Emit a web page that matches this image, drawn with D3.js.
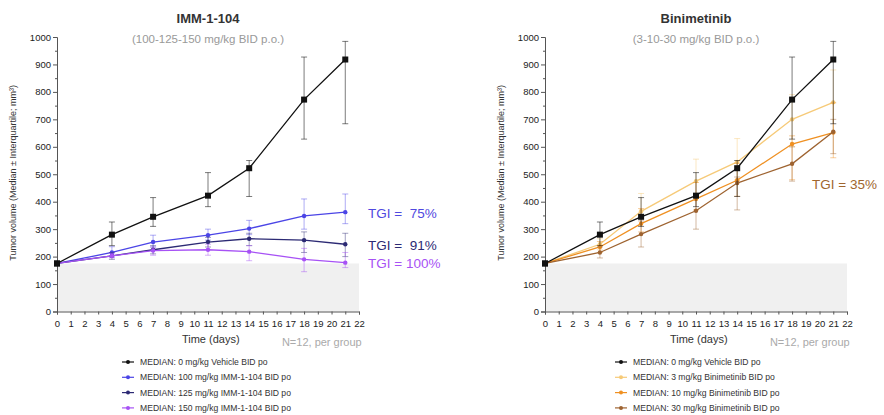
<!DOCTYPE html>
<html>
<head>
<meta charset="utf-8">
<script src="https://cdn.jsdelivr.net/npm/d3@7"></script>
<style>
  body { margin: 0; background: #fff; }
  svg text { font-family: "Liberation Sans", Arial, sans-serif; }
  .tick text { font-size: 9.5px; fill: #222; }
  .title { font-size: 13px; font-weight: bold; fill: #333; }
  .subtitle { font-size: 11.5px; fill: #999; }
  .ytitle { font-size: 9px; fill: #333; }
  .xtitle { font-size: 11px; fill: #333; }
  .ngroup { font-size: 11px; fill: #aaa; }
  .legend { font-size: 8.6px; fill: #333; }
  .tgi { font-size: 13.5px; white-space: pre; }
</style>
</head>
<body>
<div class="container"></div>
<script>
const days = [0, 4, 7, 11, 14, 18, 21];

// vehicle (shared by both panels)
const vehicleMed = [175, 280, 345, 422, 522, 772, 918];
const vehicleLo  = [165, 240, 310, 382, 419, 628, 684];
const vehicleHi  = [185, 326, 415, 506, 550, 927, 984];

// IMM-1-104
const imm100Med = [175, 215, 253, 278, 302, 348, 362];
const imm100Lo  = [168, 198, 235, 260, 280, 300, 320];
const imm100Hi  = [182, 236, 278, 300, 332, 410, 428];
const imm125Med = [175, 203, 225, 253, 265, 260, 245];
const imm125Lo  = [168, 190, 210, 235, 240, 215, 200];
const imm125Hi  = [182, 215, 240, 270, 285, 290, 285];
const imm150Med = [175, 203, 222, 225, 218, 190, 178];
const imm150Lo  = [168, 195, 205, 205, 185, 145, 160];
const imm150Hi  = [182, 212, 235, 245, 240, 230, 215];

// Binimetinib
const bin3Med  = [175, 245, 365, 475, 545, 700, 762];
const bin3Lo   = [168, 225, 340, 430, 480, 600, 650];
const bin3Hi   = [182, 265, 430, 555, 630, 790, 880];
const bin10Med = [175, 235, 320, 410, 478, 610, 652];
const bin10Lo  = [168, 215, 290, 370, 420, 480, 560];
const bin10Hi  = [182, 255, 375, 470, 540, 640, 760];
const bin30Med = [175, 215, 282, 367, 468, 538, 655];
const bin30Lo  = [168, 195, 235, 300, 370, 475, 575];
const bin30Hi  = [182, 235, 330, 420, 490, 600, 700];

const baseline = 175;

const panels = [
  {
    title: "IMM-1-104",
    subtitle: "(100-125-150 mg/kg BID p.o.)",
    left: 57,
    series: [
      {name: "MEDIAN: 0 mg/kg Vehicle BID po", color: "#111111", med: vehicleMed, lo: vehicleLo, hi: vehicleHi, square: true},
      {name: "MEDIAN: 100 mg/kg IMM-1-104 BID po", color: "#4b45e6", med: imm100Med, lo: imm100Lo, hi: imm100Hi},
      {name: "MEDIAN: 125 mg/kg IMM-1-104 BID po", color: "#2c2a74", med: imm125Med, lo: imm125Lo, hi: imm125Hi},
      {name: "MEDIAN: 150 mg/kg IMM-1-104 BID po", color: "#a752f5", med: imm150Med, lo: imm150Lo, hi: imm150Hi}
    ],
    tgi: [
      {text: "TGI =  75%", color: "#5048e0", y: 213},
      {text: "TGI =  91%", color: "#2c2a74", y: 245},
      {text: "TGI = 100%", color: "#a752f5", y: 263}
    ],
    tgiX: 368,
    legendX: 122
  },
  {
    title: "Binimetinib",
    subtitle: "(3-10-30 mg/kg BID p.o.)",
    left: 545,
    series: [
      {name: "MEDIAN: 0 mg/kg Vehicle BID po", color: "#111111", med: vehicleMed, lo: vehicleLo, hi: vehicleHi, square: true},
      {name: "MEDIAN: 3 mg/kg Binimetinib BID po", color: "#f6ca78", med: bin3Med, lo: bin3Lo, hi: bin3Hi},
      {name: "MEDIAN: 10 mg/kg Binimetinib BID po", color: "#ef9022", med: bin10Med, lo: bin10Lo, hi: bin10Hi},
      {name: "MEDIAN: 30 mg/kg Binimetinib BID po", color: "#9e6330", med: bin30Med, lo: bin30Lo, hi: bin30Hi}
    ],
    tgi: [
      {text: "TGI = 35%", color: "#a0662e", y: 184}
    ],
    tgiX: 812,
    legendX: 615
  }
];

const W = 884, H = 415;
const plotW = 302, plotTop = 37, plotBottom = 311.5;

const svg = d3.select(".container")
  .append("svg")
  .attr("width", W)
  .attr("height", H);

panels.forEach(p => {
  const g = svg.append("g");

  const x = d3.scaleLinear().domain([0, 22]).range([p.left, p.left + plotW]);
  const y = d3.scaleLinear().domain([0, 1000]).range([plotBottom, plotTop]);

  // grey band below baseline
  g.append("rect")
    .attr("x", x(0))
    .attr("y", y(baseline))
    .attr("width", x(22) - x(0))
    .attr("height", y(0) - y(baseline))
    .attr("fill", "#f0f0f0");

  // axes
  g.append("g")
    .attr("transform", `translate(${x(0)},0)`)
    .call(d3.axisLeft(y).tickValues(d3.range(0, 1001, 100)).tickFormat(d3.format("d")).tickSize(4).tickPadding(2));
  g.append("g")
    .attr("transform", `translate(${x(0)},0)`)
    .call(d3.axisLeft(y).tickValues(d3.range(50, 1000, 100)).tickSize(2).tickFormat(""))
    .select(".domain").remove();

  g.append("g")
    .attr("transform", `translate(0,${y(0)})`)
    .call(d3.axisBottom(x).tickValues(d3.range(0, 23)).tickSize(3).tickPadding(6));

  g.selectAll(".domain, .tick line").attr("stroke", "#555");
  g.selectAll(".tick text").attr("font-family", "Liberation Sans, Arial, sans-serif");

  // titles
  const cx = (x(0) + x(22)) / 2;
  g.append("text").attr("class", "title")
    .attr("x", cx).attr("y", 23).attr("text-anchor", "middle").text(p.title);
  g.append("text").attr("class", "subtitle")
    .attr("x", cx).attr("y", 43).attr("text-anchor", "middle").text(p.subtitle);

  g.append("text").attr("class", "ytitle")
    .attr("transform", `translate(${x(0) - 41},${y(505)}) rotate(-90)`)
    .attr("text-anchor", "middle")
    .text("Tumor volume (Median \u00b1 Interquartile; mm\u00b3)");

  g.append("text").attr("class", "xtitle")
    .attr("x", x(11.2)).attr("y", y(0) + 31).attr("text-anchor", "middle").text("Time (days)");
  g.append("text").attr("class", "ngroup")
    .attr("x", x(22.2)).attr("y", y(0) + 34).attr("text-anchor", "end").text("N=12, per group");

  // series (draw vehicle last so it sits on top)
  const order = p.series.slice(1).concat([p.series[0]]);
  order.forEach(s => {
    const pts = days.map((d, i) => ({day: d, med: s.med[i], lo: s.lo[i], hi: s.hi[i]}));
    const sg = g.append("g");

    // error bars
    sg.selectAll(".err")
      .data(pts)
      .join("line")
      .attr("x1", d => x(d.day)).attr("x2", d => x(d.day))
      .attr("y1", d => y(d.lo)).attr("y2", d => y(d.hi))
      .attr("stroke", s.color)
      .attr("stroke-opacity", s.square ? 0.55 : 0.45)
      .attr("stroke-width", 1);
    ["lo", "hi"].forEach(k => {
      sg.selectAll(".cap-" + k)
        .data(pts)
        .join("line")
        .attr("x1", d => x(d.day) - 3).attr("x2", d => x(d.day) + 3)
        .attr("y1", d => y(d[k])).attr("y2", d => y(d[k]))
        .attr("stroke", s.color)
        .attr("stroke-opacity", s.square ? 0.55 : 0.45)
        .attr("stroke-width", 1);
    });

    sg.append("path")
      .datum(pts)
      .attr("fill", "none")
      .attr("stroke", s.color)
      .attr("stroke-width", 1.3)
      .attr("d", d3.line().x(d => x(d.day)).y(d => y(d.med)));

    if (s.square) {
      sg.selectAll(".mk")
        .data(pts)
        .join("rect")
        .attr("x", d => x(d.day) - 3).attr("y", d => y(d.med) - 3)
        .attr("width", 6).attr("height", 6)
        .attr("fill", s.color);
    } else {
      sg.selectAll(".mk")
        .data(pts)
        .join("circle")
        .attr("cx", d => x(d.day)).attr("cy", d => y(d.med))
        .attr("r", 2.2)
        .attr("fill", s.color);
    }
  });

  // TGI labels
  p.tgi.forEach(t => {
    g.append("text").attr("class", "tgi")
      .attr("x", p.tgiX).attr("y", t.y + 5)
      .attr("fill", t.color)
      .text(t.text);
  });

  // legend
  p.series.forEach((s, i) => {
    const ly = 362 + i * 15.3;
    g.append("line")
      .attr("x1", p.legendX).attr("x2", p.legendX + 12)
      .attr("y1", ly).attr("y2", ly)
      .attr("stroke", s.color).attr("stroke-width", 1.2);
    g.append("circle")
      .attr("cx", p.legendX + 6).attr("cy", ly).attr("r", 2)
      .attr("fill", s.color);
    g.append("text").attr("class", "legend")
      .attr("x", p.legendX + 18).attr("y", ly + 3)
      .text(s.name);
  });
});
</script>
</body>
</html>
